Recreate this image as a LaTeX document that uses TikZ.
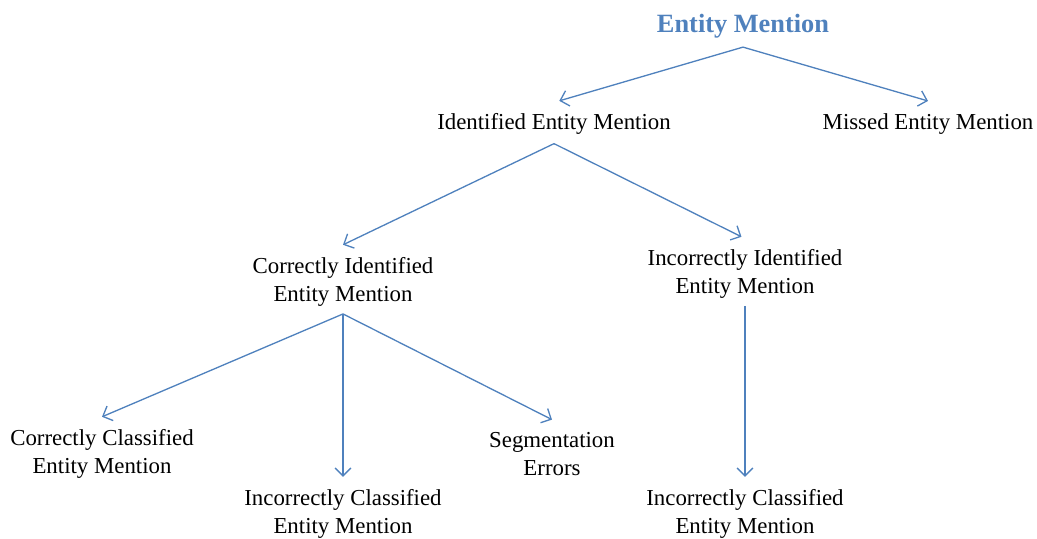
\documentclass[tikz,border=0pt]{standalone}
\usepackage{fontspec}
\setmainfont{Liberation Serif}
\usetikzlibrary{arrows.meta}

\definecolor{officeblue}{RGB}{79,129,189}

\begin{document}
\begin{tikzpicture}[x=0.02cm, y=-0.02cm,
    lbl/.style={align=center, inner sep=0pt, font=\fontsize{13}{16}\selectfont},
    arr/.style={-{Straight Barb[length=4.5pt,width=9pt]}, officeblue, line width=0.75pt}]
    \useasboundingbox (0,0) rectangle (1037,538);

    % Root
    \node[inner sep=0pt, text=officeblue, font=\fontsize{15}{18}\selectfont\bfseries] (root) at (743,26) {Entity Mention};

    % First level
    \node[lbl] (ident)  at (554,124) {Identified Entity Mention};
    \node[lbl] (missed) at (928,124) {Missed Entity Mention};

    % Second level
    \node[lbl] (corrid)   at (343,282) {Correctly Identified\\Entity Mention};
    \node[lbl] (incorrid) at (745,274) {Incorrectly Identified\\Entity Mention};

    % Leaves
    \node[lbl] (corrcls)   at (102,454) {Correctly Classified\\Entity Mention};
    \node[lbl] (incorrcls) at (343,514) {Incorrectly Classified\\Entity Mention};
    \node[lbl] (segerr)    at (552,454) {Segmentation\\Errors};
    \node[lbl] (incorrcls2) at (745,514) {Incorrectly Classified\\Entity Mention};

    % Arrows
    \draw[arr] ([yshift=-5pt]root.south) -- ([xshift=3pt,yshift=7pt]ident.north);
    \draw[arr] ([yshift=-5pt]root.south) -- ([yshift=7pt]missed.north);
    \draw[arr] ([yshift=-5pt]ident.south) -- ([yshift=7pt]corrid.north);
    \draw[arr] ([yshift=-5pt]ident.south) -- ([xshift=-2pt,yshift=7pt]incorrid.north);
    \draw[arr] ([yshift=-4pt]corrid.south) -- ([yshift=7pt]corrcls.north);
    \draw[arr] ([yshift=-4pt]corrid.south) -- ([yshift=7pt]incorrcls.north);
    \draw[arr] ([yshift=-4pt]corrid.south) -- ([yshift=7pt]segerr.north);
    \draw[arr] ([yshift=-4pt]incorrid.south) -- ([yshift=7pt]incorrcls2.north);
\end{tikzpicture}
\end{document}
